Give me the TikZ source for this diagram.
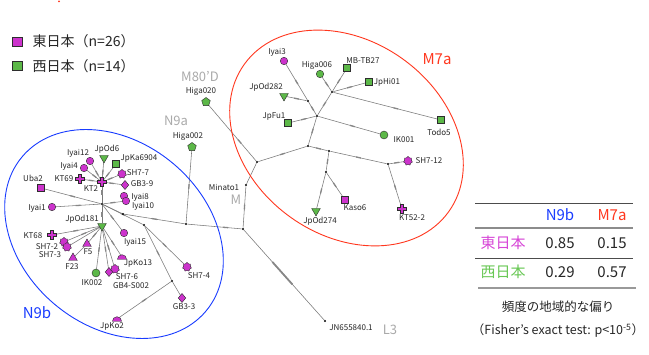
\documentclass[tikz,border=0pt]{standalone}
\usepackage{fontspec}
\setmainfont{Noto Sans CJK JP}
\usetikzlibrary{shapes.geometric,decorations.markings,backgrounds}
\definecolor{mag}{RGB}{204,51,204}
\definecolor{grn}{RGB}{92,184,72}
\definecolor{outl}{RGB}{45,45,45}
\definecolor{edgegray}{RGB}{120,120,120}
\definecolor{markgray}{RGB}{135,135,135}
\definecolor{labgray}{RGB}{170,170,170}
\definecolor{myred}{RGB}{255,55,30}
\definecolor{myblue}{RGB}{25,60,255}
\definecolor{tmag}{RGB}{215,70,215}
\definecolor{tgrn}{RGB}{105,200,85}
\tikzset{
  nd/.style={draw=outl, line width=0.4pt, inner sep=0pt, outer sep=0pt},
  E/.style={nd, fill=mag},
  W/.style={nd, fill=grn},
  circ/.style={circle, minimum size=7.5pt},
  sqr/.style={rectangle, minimum size=7pt},
  pent/.style={regular polygon, regular polygon sides=5, minimum size=9pt},
  dtri/.style={regular polygon, regular polygon sides=3, shape border rotate=180, minimum size=10pt},
  utri/.style={regular polygon, regular polygon sides=3, minimum size=10pt},
  gear/.style={star, star points=7, star point ratio=1.3, minimum size=9pt},
  dmd/.style={diamond, minimum width=7.5pt, minimum height=9pt},
  lab/.style={font=\fontsize{8}{9}\selectfont, text=black!85, inner sep=0pt},
  grp/.style={font=\fontsize{13}{15}\selectfont, text=labgray, inner sep=0pt},
  dotj/.style={circle, fill=black, inner sep=0pt, minimum size=2.4pt},
  edge/.style={draw=edgegray, line width=0.55pt},
  mut/.style={postaction={decorate}, decoration={markings,
      mark=at position #1 with {\draw[line width=1.3pt, draw=markgray] (-2.5pt,0) -- (2.5pt,0);}}},
  mut/.default=0.5,
  longmut/.style={postaction={decorate}, decoration={markings,
      mark=at position 0.48 with {\draw[line width=1.8pt, draw=markgray] (-15pt,0) -- (15pt,0);}}},
  tab/.style={font=\fontsize{15}{17}\selectfont, inner sep=0pt},
  captxt/.style={font=\fontsize{12.5}{15}\selectfont, text=black!85, inner sep=0pt},
  pics/plusmk/.style={code={\filldraw[fill=mag, draw=outl, line width=0.4pt]
      (-1.6,4.6) -- (1.6,4.6) -- (1.6,1.6) -- (4.6,1.6) -- (4.6,-1.6) -- (1.6,-1.6) --
      (1.6,-4.6) -- (-1.6,-4.6) -- (-1.6,-1.6) -- (-4.6,-1.6) -- (-4.6,1.6) -- (-1.6,1.6) -- cycle;}},
  pics/semimk/.style={code={\filldraw[fill=mag, draw=outl, line width=0.4pt]
      (-4.6,-2.3) arc[start angle=180, end angle=0, radius=4.6] -- cycle;}}
}
\newcommand\edg[3][0.5]{\draw[edge,mut=#1] (#2) -- (#3);}
\begin{document}
\begin{tikzpicture}[x=1pt,y=1pt]
\useasboundingbox (0,0) rectangle (649,-355);
\begin{scope}[on background layer]
\fill[white] (0,0) rectangle (649,-355);
\end{scope}
\fill[myred] (59,-1.5) circle (1pt);

% ---------- legend
\node[nd, fill=mag, minimum width=10pt, minimum height=9pt] (legE) at (16.7,-41.3) {};
\node[nd, fill=grn, minimum width=10pt, minimum height=9pt] (legW) at (16.7,-66) {};
\node[anchor=west, inner sep=0pt, font=\fontsize{14}{16}\selectfont, text=black!85] (legEt) at (32.5,-41.3) {東日本（n=26）};
\node[anchor=west, inner sep=0pt, font=\fontsize{14}{16}\selectfont, text=black!85] (legWt) at (32.5,-66) {西日本（n=14）};

% ---------- junctions
\node[dotj] (Ja) at (332,-92) {};
\node[dotj] (Jb) at (308,-101) {};
\node[dotj] (Jc) at (317,-116) {};
\node[dotj] (Jd) at (308,-146) {};
\node[dotj] (Je) at (257,-162) {};
\node[dotj] (Jf) at (388,-164) {};
\node[dotj] (Jg) at (329,-151) {};
\node[dotj] (Jh) at (326,-172) {};
\node[dotj] (Minato1) at (246,-185) {};
\node[dotj] (JM) at (243,-229) {};
\node[dotj] (JN) at (325,-321) {};
\node[dotj] (Ja9) at (186,-224) {};
\node[dotj] (Jr) at (123,-214) {};
\node[dotj] (J9) at (102,-204) {};
\node[dotj] (Jy) at (144,-225) {};
\node[dotj] (Jx) at (172,-281) {};

% ---------- M7a haplotypes
\node[E, circ] (Iyai3) at (284,-61) {};
\node[W, circ] (Higa006) at (320,-74) {};
\node[W, sqr] (MBTB27) at (347,-68) {};
\node[W, sqr] (JpHi01) at (369,-82) {};
\node[W, dtri] (JpOd282) at (284,-96) {};
\node[W, sqr] (JpFu1) at (288,-123) {};
\node[W, circ, minimum size=8pt] (IK001) at (384,-135) {};
\node[W, sqr] (Todo5) at (441,-120) {};
\node[E, gear] (SH712) at (408,-161) {};
\coordinate (KT522) at (402,-209);
\node[W, dtri] (JpOd274) at (316,-211) {};
\node[E, sqr] (Kaso6) at (345,-200) {};
\node[W, pent] (Higa020) at (206,-102) {};
\node[W, pent] (Higa002) at (192,-147) {};

% ---------- N9b haplotypes
\node[E, circ] (Iyai12) at (90,-161) {};
\node[W, dtri] (JpOd6) at (104,-158) {};
\node[W, sqr] (JpKa6904) at (116,-164) {};
\node[E, circ] (Iyai4) at (84,-168) {};
\node[E, gear] (SH77) at (122,-174) {};
\coordinate (KT69) at (80,-179);
\coordinate (KT2) at (102,-182);
\node[E, dmd] (GB39) at (125,-185) {};
\node[E, sqr] (Uba2) at (41,-188) {};
\node[E, circ] (Iyai8) at (124,-196) {};
\node[E, circ] (Iyai10) at (126,-201) {};
\node[E, circ] (Iyai1) at (52,-207) {};
\node[W, dtri] (JpOd181) at (102,-226) {};
\coordinate (KT68) at (52,-235);
\node[E, gear] (SH72) at (64,-242) {};
\node[E, gear] (SH73) at (67,-247) {};
\node[E, utri] (F5) at (87,-244) {};
\node[E, utri] (F23) at (73,-258) {};
\node[E, circ] (Iyai15) at (124,-233) {};
\coordinate (JpKo13) at (122,-257);
\node[W, circ, minimum size=8pt] (IK002) at (96,-273) {};
\node[E, dmd] (GB4S002) at (109,-272) {};
\node[E, gear] (SH76) at (115,-269) {};
\node[E, gear] (SH74) at (187,-267) {};
\node[E, dmd] (GB33) at (182,-298) {};
\coordinate (JpKo2) at (117,-319);

% ---------- connectors
\begin{scope}[on background layer]
\edg{Iyai3}{Jb} \edg{JpOd282}{Jb} \edg{Jb}{Jc} \edg{JpFu1}{Jc}
\edg[0.55]{Jc}{IK001} \edg{Jc}{Ja} \edg{Ja}{Higa006} \edg{Ja}{MBTB27}
\edg{Ja}{JpHi01} \edg[0.6]{Ja}{Todo5} \edg{Jc}{Jd} \edg{Jd}{Je}
\edg{Jd}{Jg} \edg{Jg}{Jf} \edg{Jf}{SH712} \edg{Jf}{KT522}
\edg{Jg}{Jh} \edg{Jh}{JpOd274} \edg{Jh}{Kaso6}
\edg[0.35]{Je}{Higa020} \draw[edge] (Je) -- (Minato1);
\edg{Minato1}{JM} \draw[edge,longmut] (JM) -- (JN);
\edg[0.3]{JM}{Ja9} \edg{Ja9}{Higa002} \edg{Ja9}{Jr} \draw[edge] (Jr) -- (J9);
\edg{J9}{KT2}
\edg{KT2}{Iyai12} \edg{KT2}{JpOd6} \edg{KT2}{JpKa6904} \edg{KT2}{Iyai4}
\edg{KT2}{KT69} \edg{KT2}{SH77} \edg{KT2}{GB39}
\edg{J9}{Uba2} \edg{J9}{Iyai1} \edg{J9}{Iyai10} \edg{J9}{JpOd181}
\edg{J9}{Iyai15} \edg{J9}{Jy} \edg{Jy}{SH74} \edg{Jy}{Jx} \draw[edge] (Jx) -- (GB33);
\edg{Jx}{JpKo2}
\edg{JpOd181}{KT68} \edg{JpOd181}{SH72} \draw[edge] (JpOd181) -- (SH73);
\edg{JpOd181}{F5} \draw[edge] (F5) -- (F23);
\edg{JpOd181}{IK002} \edg{JpOd181}{GB4S002} \edg{JpOd181}{SH76} \edg{JpOd181}{JpKo13}
\end{scope}

\pic at (KT522) {plusmk};
\pic at (KT69) {plusmk};
\pic at (KT2) {plusmk};
\pic at (KT68) {plusmk};
\pic at (JpKo13) {semimk};
\pic at (JpKo2) {semimk};

% ---------- groups
\draw[myred, line width=0.9pt, rotate around={-36:(346.5,-138)}] (346.5,-138) ellipse [x radius=126, y radius=97];
\draw[myblue, line width=0.9pt, rotate around={-40:(114,-234)}] (114,-234) ellipse [x radius=120, y radius=92];

\node[font=\fontsize{15}{17}\selectfont, text=myred, inner sep=0pt] (lM7a) at (437,-59) {M7a};
\node[font=\fontsize{15}{17}\selectfont, text=myblue, inner sep=0pt] (lN9b) at (37,-313) {N9b};
\node[grp] (lM80) at (200,-77) {M80’D};
\node[grp] (lN9a) at (176,-121) {N9a};
\node[grp] (lM) at (236,-200) {M};
\node[grp] (lL3) at (390,-330) {L3};

% ---------- labels
\node[lab] at (277,-52) {Iyai3};
\node[lab] at (317,-65) {Higa006};
\node[lab] at (363,-61) {MB-TB27};
\node[lab] at (387,-82) {JpHi01};
\node[lab] at (266,-87) {JpOd282};
\node[lab] at (274,-116) {JpFu1};
\node[lab] at (404,-140) {IK001};
\node[lab] at (439,-132) {Todo5};
\node[lab] at (429,-161) {SH7-12};
\node[lab] at (201,-91) {Higa020};
\node[lab] at (188,-136) {Higa002};
\node[lab] at (224,-187) {Minato1};
\node[lab] at (320,-221) {JpOd274};
\node[lab] at (355,-208) {Kaso6};
\node[lab] at (412,-218) {KT52-2};
\node[lab] at (351,-328) {JN655840.1};
\node[lab] at (78,-153) {Iyai12};
\node[lab] at (107,-149) {JpOd6};
\node[lab] at (139,-158) {JpKa6904};
\node[lab] at (69,-166) {Iyai4};
\node[lab] at (138,-173) {SH7-7};
\node[lab] at (64,-179) {KT69};
\node[lab] at (91,-189) {KT2};
\node[lab] at (142,-184) {GB3-9};
\node[lab] at (33,-178) {Uba2};
\node[lab] at (140,-197) {Iyai8};
\node[lab] at (143,-206) {Iyai10};
\node[lab] at (37,-208) {Iyai1};
\node[lab] at (82,-219) {JpOd181};
\node[lab] at (33,-236) {KT68};
\node[lab] at (47,-247) {SH7-2};
\node[lab] at (50,-255) {SH7-3};
\node[lab] at (88,-252) {F5};
\node[lab] at (72,-267) {F23};
\node[lab] at (135,-242) {Iyai15};
\node[lab] at (138,-263) {JpKo13};
\node[lab] at (92,-283) {IK002};
\node[lab] at (127,-277) {SH7-6};
\node[lab] at (131,-286) {GB4-S002};
\node[lab] at (199,-276) {SH7-4};
\node[lab] at (184,-307) {GB3-3};
\node[lab] at (112,-326) {JpKo2};

% ---------- table
\draw[black!70, line width=0.7pt] (475,-203) -- (633,-203);
\draw[black!45, line width=1.1pt] (475,-228) -- (633,-228);
\draw[black!70, line width=0.7pt] (475,-258) -- (633,-258);
\draw[black!40, line width=1.1pt] (478,-288) -- (636,-288);
\node[tab, text=myblue] (hN9b) at (560,-215) {N9b};
\node[tab, text=myred] (hM7a) at (612,-215) {M7a};
\node[tab, text=tmag] (rE) at (503,-243) {東日本};
\node[tab, text=black!85] (e1) at (560,-243) {0.85};
\node[tab, text=black!85] (e2) at (612,-243) {0.15};
\node[tab, text=tgrn] (rW) at (503,-272) {西日本};
\node[tab, text=black!85] (w1) at (560,-272) {0.29};
\node[tab, text=black!85] (w2) at (612,-272) {0.57};
\node[captxt] (cap1) at (558,-307) {頻度の地域的な偏り};
\node[captxt] (cap2) at (558,-331) {（Fisher’s exact test: p<10\textsuperscript{-5}）};
\end{tikzpicture}
\end{document}
